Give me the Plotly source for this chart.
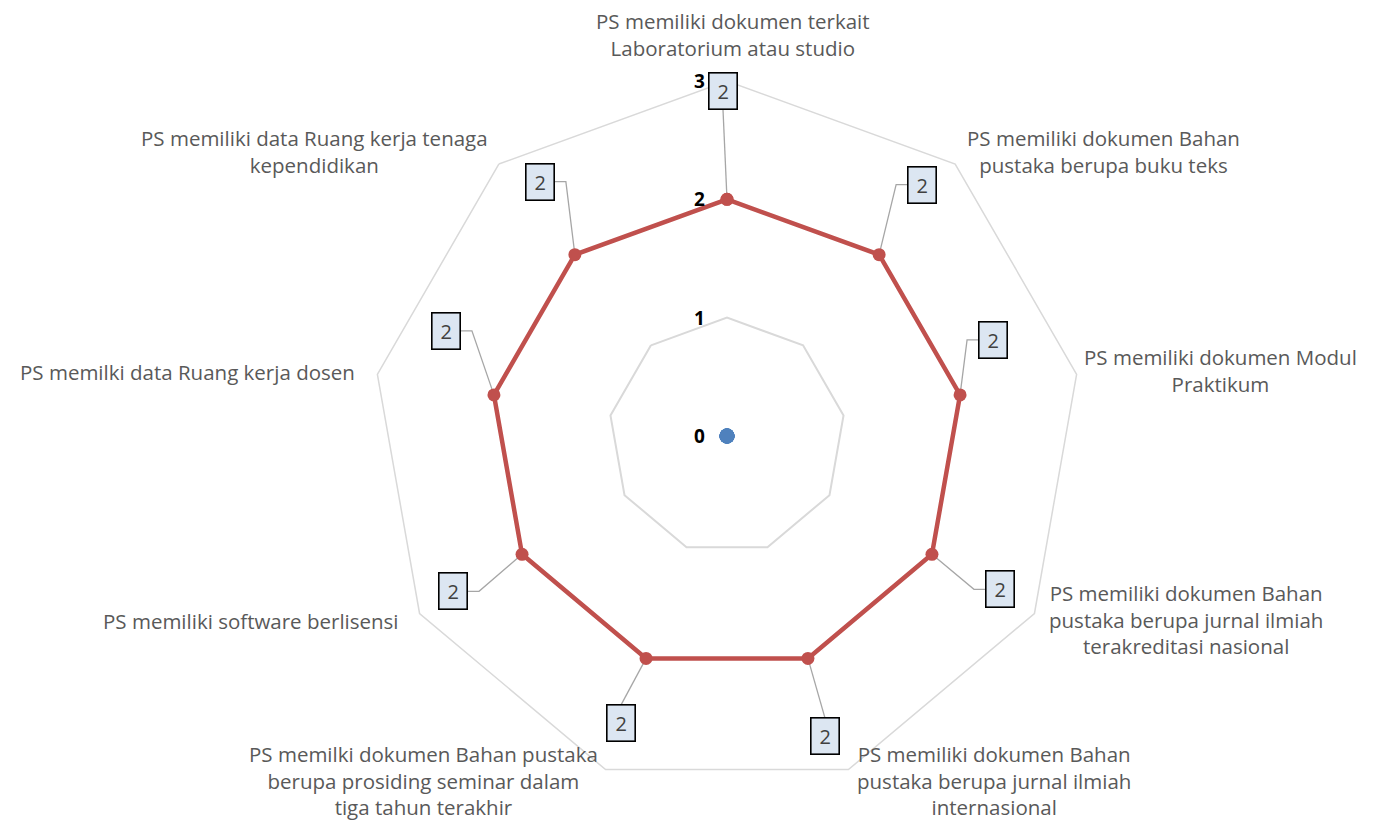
import math
import plotly.graph_objects as go

# ---------------- data ----------------
categories = [
    "PS memiliki dokumen terkait<br>Laboratorium atau studio",
    "PS memiliki dokumen Bahan<br>pustaka berupa buku teks",
    "PS memiliki dokumen Modul<br>Praktikum",
    "PS memiliki dokumen Bahan<br>pustaka berupa jurnal ilmiah<br>terakreditasi nasional",
    "PS memiliki dokumen Bahan<br>pustaka berupa jurnal ilmiah<br>internasional",
    "PS memilki dokumen Bahan pustaka<br>berupa prosiding seminar dalam<br>tiga tahun terakhir",
    "PS memiliki software berlisensi",
    "PS memilki data Ruang kerja dosen",
    "PS memiliki data Ruang kerja tenaga<br>kependidikan",
]
series_main = [2, 2, 2, 2, 2, 2, 2, 2, 2]
series_base = [0, 0, 0, 0, 0, 0, 0, 0, 0]
radial_ticks = [0, 1, 2, 3]
radial_max = 3

# ---------------- layout / style ----------------
PAGE_OFFSET = 8                    # default body margin of the html page
W, H = 1375 - PAGE_OFFSET, 822 - PAGE_OFFSET   # fit inside the window
CX, CY, R = 727 - PAGE_OFFSET, 436 - PAGE_OFFSET, 355   # centre / outer radius (px)
ppu = R / radial_max               # pixels per data unit

LABEL_FONT = "'Open Sans', Lato, sans-serif"
GRID = "#D9D9D9"
RED = "#C0504D"
BLUE = "#4F81BD"
LEADER = "#A6A6A6"

# data-label box centre offsets (pixels, relative to the point; +y = down)
lab_dx = [-4, 43, 33, 68, 17, -25, -69, -48, -35]
lab_dy = [-108, -70, -55, 35, 78, 65, 37, -64, -73]
# leader style: 'v' straight to box top/bottom, 'h' elbow then horizontal
lab_leader = ["v", "h", "h", "h", "v", "v", "h", "h", "h"]
BOX_HALF_W, BOX_HALF_H, ELBOW = 15, 18.5, 11

# category label anchoring
cat_xanchor = ["center", "left", "left", "left", "left", "right", "right", "right", "right"]
cat_xshift = [6, 10, 5, 13, 7, -6, -19, -20, -9]
cat_yshift = [17, 13, 4, -6, -11, -11, -7, 2, 13]
cat_yanchor = ["bottom", "middle", "middle", "middle", "middle", "middle", "middle", "middle", "middle"]

n = len(categories)
angles = [i * 360.0 / n for i in range(n)]

fig = go.Figure()

fig.add_trace(go.Scatterpolar(
    r=series_main + [series_main[0]],
    theta=categories + [categories[0]],
    mode="lines+markers",
    line=dict(color=RED, width=4.5),
    marker=dict(color=RED, size=13),
    cliponaxis=False,
    showlegend=False,
    hoverinfo="skip",
))

# base series (all zero) drawn through the overlay axes -> single dot at centre
fig.add_trace(go.Scatter(
    x=[v * math.sin(math.radians(a)) for v, a in zip(series_base, angles)],
    y=[v * math.cos(math.radians(a)) for v, a in zip(series_base, angles)],
    mode="markers",
    marker=dict(color=BLUE, size=15),
    xaxis="x", yaxis="y",
    cliponaxis=False,
    showlegend=False,
    hoverinfo="skip",
))

# leader lines
lx, ly, box_pos = [], [], []
for i, v in enumerate(series_main):
    a = math.radians(angles[i])
    px, py = v * math.sin(a), v * math.cos(a)
    bx, by = px + lab_dx[i] / ppu, py - lab_dy[i] / ppu
    box_pos.append((bx, by))
    if lab_leader[i] == "v":
        edge_y = by + (BOX_HALF_H if lab_dy[i] > 0 else -BOX_HALF_H) / ppu
        lx += [px, bx, None]
        ly += [py, edge_y, None]
    else:
        sgn = 1 if lab_dx[i] > 0 else -1
        edge_x = bx - sgn * BOX_HALF_W / ppu
        elbow_x = edge_x - sgn * ELBOW / ppu
        lx += [px, elbow_x, edge_x, None]
        ly += [py, by, by, None]

fig.add_trace(go.Scatter(
    x=lx, y=ly, mode="lines", line=dict(color=LEADER, width=1.3),
    xaxis="x", yaxis="y", cliponaxis=False, showlegend=False, hoverinfo="skip",
))

annotations = []
# data label boxes
for i, v in enumerate(series_main):
    bx, by = box_pos[i]
    annotations.append(dict(
        x=bx, y=by, xref="x", yref="y", text=str(v), showarrow=False,
        xanchor="center", yanchor="middle",
        font=dict(family=LABEL_FONT, size=20, color="#404040"),
        bgcolor="#DCE6F2", bordercolor="#000000", borderwidth=1.6,
        borderpad=5, width=17, height=25, align="center", valign="middle",
    ))

# category labels
for i, c in enumerate(categories):
    a = math.radians(angles[i])
    annotations.append(dict(
        x=radial_max * math.sin(a), y=radial_max * math.cos(a), xref="x", yref="y",
        text=c, showarrow=False, align="center",
        xanchor=cat_xanchor[i], yanchor=cat_yanchor[i],
        xshift=cat_xshift[i], yshift=cat_yshift[i],
        font=dict(family=LABEL_FONT, size=20.5, color="#595959"),
    ))

# radial tick labels
for t in radial_ticks:
    annotations.append(dict(
        x=0, y=t, xref="x", yref="y", text="<b>%d</b>" % t, showarrow=False,
        xanchor="right", yanchor="middle", xshift=-20,
        font=dict(family=LABEL_FONT, size=19, color="#000000"),
    ))

fig.update_layout(
    width=W, height=H,
    margin=dict(l=0, r=0, t=0, b=0),
    paper_bgcolor="white", plot_bgcolor="rgba(0,0,0,0)",
    showlegend=False,
    polar=dict(
        domain=dict(x=[(CX - R) / W, (CX + R) / W],
                    y=[(H - CY - R) / H, (H - CY + R) / H]),
        bgcolor="rgba(0,0,0,0)",
        gridshape="linear",
        angularaxis=dict(
            direction="clockwise", rotation=90,
            showticklabels=False, ticks="", showgrid=False,
            showline=True, linecolor=GRID, linewidth=1.5,
        ),
        radialaxis=dict(
            range=[0, radial_max], tickvals=radial_ticks,
            showticklabels=False, ticks="", showline=False,
            gridcolor=GRID, gridwidth=1.5,
        ),
    ),
    xaxis=dict(range=[-CX / ppu, (W - CX) / ppu], domain=[0, 1], visible=False, fixedrange=True),
    yaxis=dict(range=[-(H - CY) / ppu, CY / ppu], domain=[0, 1], visible=False, fixedrange=True),
    annotations=annotations,
)

fig.write_html("out.html")
